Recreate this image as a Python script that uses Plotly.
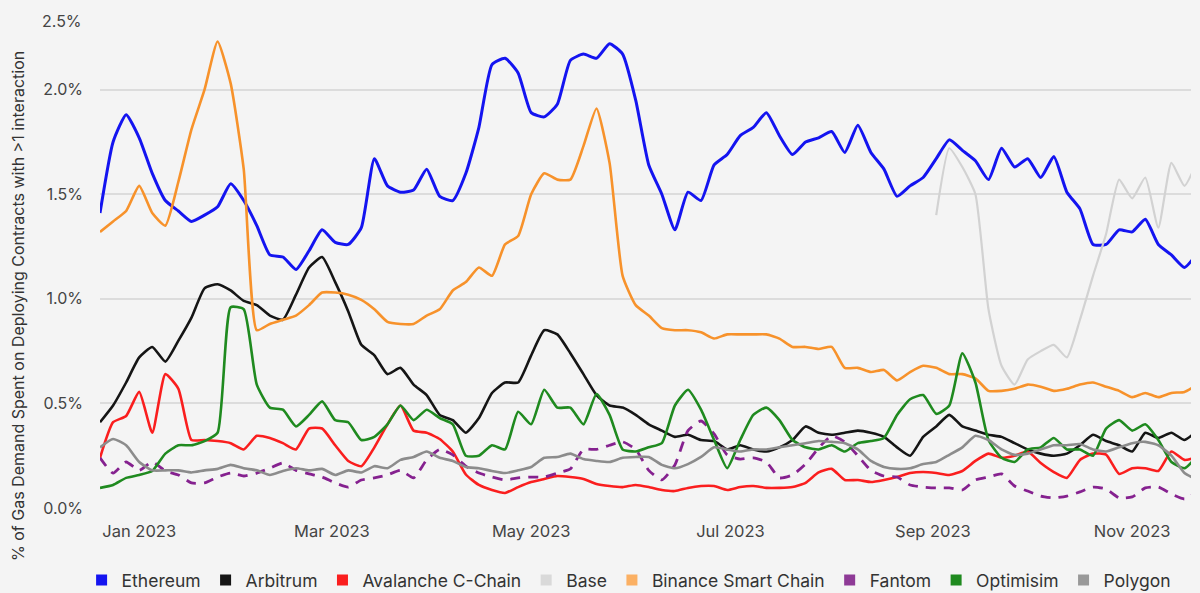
import pandas as pd
import plotly.graph_objects as go

dates = pd.date_range("2022-12-20", periods=85, freq="4D")

ethereum = [1.41, 1.75, 1.88, 1.77, 1.60, 1.47, 1.42, 1.37, 1.40, 1.44, 1.55, 1.47, 1.35, 1.21, 1.20, 1.14,
            1.23, 1.33, 1.27, 1.26, 1.34, 1.67, 1.54, 1.51, 1.52, 1.62, 1.49, 1.47, 1.60, 1.82, 2.12, 2.15,
            2.08, 1.89, 1.87, 1.93, 2.14, 2.17, 2.15, 2.22, 2.17, 1.95, 1.64, 1.50, 1.33, 1.51, 1.47, 1.64,
            1.69, 1.78, 1.82, 1.89, 1.78, 1.69, 1.75, 1.77, 1.80, 1.70, 1.83, 1.70, 1.62, 1.49, 1.54, 1.58,
            1.67, 1.76, 1.71, 1.66, 1.57, 1.72, 1.63, 1.67, 1.58, 1.68, 1.51, 1.43, 1.26, 1.26, 1.33, 1.32,
            1.38, 1.26, 1.21, 1.15, 1.22]

arbitrum = [0.41, 0.49, 0.60, 0.72, 0.77, 0.70, 0.80, 0.91, 1.05, 1.07, 1.04, 0.99, 0.97, 0.92, 0.90, 1.02,
            1.15, 1.20, 1.08, 0.94, 0.78, 0.73, 0.64, 0.67, 0.59, 0.54, 0.445, 0.42, 0.36, 0.43, 0.55, 0.60,
            0.60, 0.73, 0.85, 0.83, 0.74, 0.64, 0.54, 0.49, 0.48, 0.445, 0.40, 0.37, 0.34, 0.35, 0.325, 0.32,
            0.28, 0.30, 0.28, 0.27, 0.29, 0.325, 0.39, 0.36, 0.35, 0.36, 0.37, 0.36, 0.34, 0.29, 0.25, 0.34,
            0.39, 0.445, 0.39, 0.37, 0.35, 0.34, 0.31, 0.28, 0.26, 0.25, 0.26, 0.30, 0.35, 0.32, 0.30, 0.27,
            0.36, 0.335, 0.36, 0.325, 0.37]

avalanche = [0.24, 0.41, 0.44, 0.555, 0.36, 0.64, 0.57, 0.325, 0.325, 0.32, 0.31, 0.28, 0.345, 0.335, 0.31, 0.28,
             0.38, 0.38, 0.30, 0.225, 0.20, 0.29, 0.40, 0.49, 0.37, 0.36, 0.33, 0.27, 0.16, 0.11, 0.086, 0.072,
             0.10, 0.124, 0.139, 0.153, 0.148, 0.139, 0.115, 0.105, 0.10, 0.11, 0.10, 0.086, 0.081, 0.096, 0.105, 0.105,
             0.086, 0.10, 0.105, 0.096, 0.096, 0.10, 0.12, 0.17, 0.187, 0.134, 0.134, 0.124, 0.134, 0.148, 0.167, 0.172,
             0.167, 0.158, 0.177, 0.225, 0.26, 0.24, 0.25, 0.27, 0.215, 0.172, 0.144, 0.23, 0.26, 0.255, 0.163, 0.19,
             0.19, 0.177, 0.27, 0.23, 0.244]

base = [None] * 64 + [1.40, 1.72, 1.63, 1.50, 0.95, 0.68, 0.59, 0.71, 0.75, 0.78, 0.72, 0.90, 1.11, 1.31, 1.57, 1.48,
                      1.58, 1.34, 1.65, 1.54, 1.66]

bsc = [1.32, 1.37, 1.42, 1.54, 1.41, 1.35, 1.56, 1.81, 2.00, 2.23, 2.03, 1.62, 0.85, 0.88, 0.90, 0.92,
       0.97, 1.03, 1.03, 1.02, 0.995, 0.95, 0.89, 0.88, 0.88, 0.92, 0.95, 1.04, 1.08, 1.15, 1.11, 1.26,
       1.30, 1.50, 1.60, 1.57, 1.57, 1.73, 1.91, 1.65, 1.11, 0.97, 0.92, 0.86, 0.85, 0.85, 0.84, 0.81,
       0.83, 0.83, 0.83, 0.83, 0.81, 0.77, 0.77, 0.76, 0.77, 0.67, 0.67, 0.65, 0.66, 0.61, 0.65, 0.68,
       0.67, 0.64, 0.64, 0.62, 0.56, 0.56, 0.57, 0.59, 0.58, 0.56, 0.57, 0.59, 0.60, 0.58, 0.56, 0.53,
       0.55, 0.53, 0.55, 0.555, 0.59]

fantom = [0.24, 0.167, 0.22, 0.18, 0.22, 0.177, 0.158, 0.12, 0.12, 0.148, 0.167, 0.153, 0.167, 0.19, 0.215, 0.18,
          0.163, 0.148, 0.12, 0.10, 0.134, 0.144, 0.158, 0.18, 0.144, 0.23, 0.28, 0.254, 0.20, 0.167, 0.148, 0.134,
          0.144, 0.148, 0.148, 0.167, 0.187, 0.28, 0.28, 0.30, 0.316, 0.28, 0.18, 0.134, 0.206, 0.37, 0.416, 0.354,
          0.254, 0.234, 0.24, 0.22, 0.144, 0.158, 0.21, 0.287, 0.345, 0.316, 0.25, 0.18, 0.153, 0.148, 0.11, 0.10,
          0.096, 0.096, 0.086, 0.134, 0.148, 0.163, 0.105, 0.081, 0.057, 0.048, 0.057, 0.077, 0.10, 0.091, 0.048, 0.053,
          0.096, 0.10, 0.067, 0.043, 0.077]

optimism = [0.096, 0.11, 0.144, 0.158, 0.177, 0.26, 0.30, 0.30, 0.32, 0.36, 0.96, 0.95, 0.59, 0.48, 0.47, 0.39,
            0.445, 0.51, 0.42, 0.41, 0.325, 0.34, 0.40, 0.49, 0.42, 0.47, 0.43, 0.40, 0.25, 0.25, 0.30, 0.28,
            0.46, 0.40, 0.565, 0.48, 0.48, 0.40, 0.545, 0.445, 0.28, 0.27, 0.29, 0.31, 0.49, 0.565, 0.47, 0.325,
            0.19, 0.325, 0.445, 0.48, 0.42, 0.325, 0.29, 0.28, 0.30, 0.27, 0.31, 0.32, 0.335, 0.445, 0.52, 0.54,
            0.45, 0.49, 0.74, 0.60, 0.325, 0.24, 0.22, 0.28, 0.29, 0.335, 0.28, 0.28, 0.25, 0.38, 0.42, 0.37,
            0.40, 0.325, 0.22, 0.19, 0.25]

polygon = [0.29, 0.33, 0.30, 0.22, 0.18, 0.18, 0.18, 0.17, 0.18, 0.187, 0.206, 0.19, 0.18, 0.158, 0.177, 0.19,
           0.18, 0.187, 0.158, 0.18, 0.17, 0.20, 0.19, 0.23, 0.244, 0.27, 0.24, 0.225, 0.196, 0.19, 0.177, 0.167,
           0.18, 0.196, 0.24, 0.244, 0.26, 0.234, 0.225, 0.22, 0.24, 0.244, 0.244, 0.206, 0.19, 0.21, 0.244, 0.29,
           0.28, 0.27, 0.28, 0.28, 0.29, 0.30, 0.31, 0.32, 0.316, 0.31, 0.28, 0.225, 0.196, 0.187, 0.19, 0.21,
           0.22, 0.254, 0.29, 0.345, 0.325, 0.28, 0.254, 0.26, 0.28, 0.30, 0.30, 0.306, 0.28, 0.27, 0.29, 0.31,
           0.316, 0.30, 0.25, 0.167, 0.134]

series = [
    ("Ethereum", ethereum, "#1414f0", "solid", 3),
    ("Arbitrum", arbitrum, "#151515", "solid", 2.6),
    ("Avalanche C-Chain", avalanche, "#fa1e1e", "solid", 2.6),
    ("Base", base, "#d2d2d2", "solid", 2.2),
    ("Binance Smart Chain", bsc, "#f7922b", "solid", 2.6),
    ("Fantom", fantom, "#85218f", "10px,8px", 2.8),
    ("Optimisim", optimism, "#1f8a1f", "solid", 2.6),
    ("Polygon", polygon, "#8c8c8c", "solid", 2.6),
]
legend_colors = ["#1414f0", "#151515", "#fa1e1e", "#d9d9d9", "#fbb063", "#8e3a96", "#1f8a1f", "#999999"]

fig = go.Figure()
for (name, vals, color, dash, w) in series:
    fig.add_trace(go.Scatter(x=dates, y=vals, mode="lines", name=name, showlegend=False,
                             line=dict(color=color, width=w, dash=dash, shape="spline", smoothing=0.5),
                             connectgaps=False))
for (name, vals, color, dash, w), lc in zip(series, legend_colors):
    fig.add_trace(go.Scatter(x=[None], y=[None], mode="markers", name=name,
                             marker=dict(symbol="square", size=11, color=lc)))

font_family = "Inter, Roboto, sans-serif"
fig.update_layout(
    width=1200, height=593,
    paper_bgcolor="#f4f4f4", plot_bgcolor="#f4f4f4",
    margin=dict(l=100, r=9, t=6, b=85, autoexpand=False),
    font=dict(family=font_family, color="#444444", size=15),
    showlegend=True,
    legend=dict(orientation="h", xref="container", yref="container", x=0.068, xanchor="left",
                y=1 - 580 / 593, yanchor="middle",
                font=dict(size=17.5, color="#333333"), itemwidth=30, tracegroupgap=0,
                bgcolor="rgba(0,0,0,0)"),
    xaxis=dict(type="date", range=["2022-12-20", "2023-11-19"], tick0="2023-01-01", dtick="M2",
               tickformat="%b %Y", showgrid=False, zeroline=False, showline=False, ticks="",
               ticklabelstandoff=11, tickfont=dict(size=16.5, color="#444444")),
    yaxis=dict(range=[0, 2.4], tickvals=[0, 0.5, 1.0, 1.5, 2.0],
               ticktext=["0.0%", "0.5%", "1.0%", "1.5%", "2.0%"],
               showgrid=True, gridcolor="#dcdcdc", gridwidth=2, zeroline=False, showline=False,
               ticks="", ticklabelstandoff=16, tickfont=dict(size=16, color="#444444")),
    annotations=[
        dict(text="2.5%", xref="paper", yref="y", x=0, y=2.33, xanchor="right", yanchor="middle",
             xshift=-16, showarrow=False, font=dict(size=16, color="#444444")),
        dict(text="% of Gas Demand Spent on Deploying Contracts with >1 interaction",
             xref="paper", yref="paper", x=(18 - 100) / 1091, y=(508 - 306) / 502, textangle=-90,
             xanchor="center", yanchor="middle", showarrow=False,
             font=dict(size=16, color="#333333")),
    ],
)

fig.write_html("out.html", config={"displayModeBar": False})

with open("out.html", "r", encoding="utf-8") as f:
    html = f.read()
html = html.replace("<head>", "<head><style>html,body{margin:0;padding:0;background:#f4f4f4;}</style>", 1)
with open("out.html", "w", encoding="utf-8") as f:
    f.write(html)
